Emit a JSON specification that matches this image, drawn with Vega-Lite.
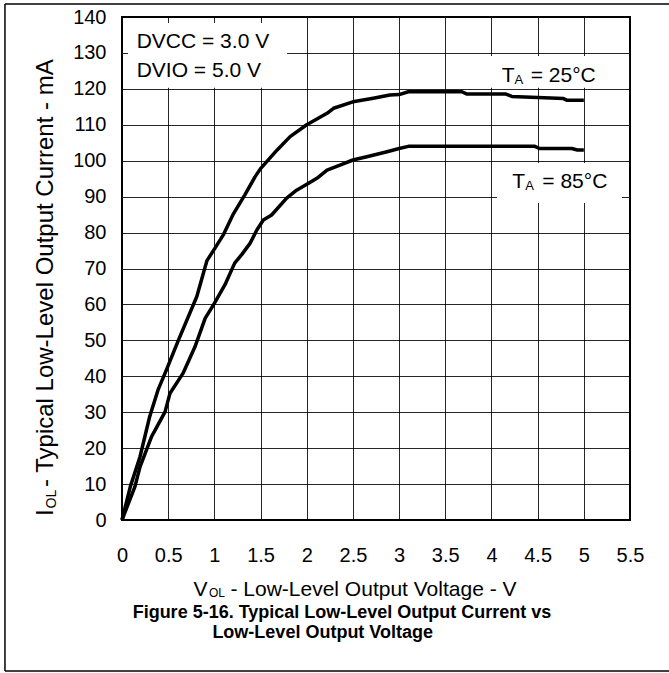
{
  "$schema": "https://vega.github.io/schema/vega-lite/v6.json",
  "width": 508,
  "height": 503,
  "autosize": {"type": "none"},
  "padding": {"left": 122, "top": 17, "right": 39, "bottom": 153},
  "background": "white",
  "config": {
    "view": {"stroke": "#000", "strokeWidth": 2},
    "axis": {
      "grid": true, "gridColor": "#000", "gridWidth": 1, "gridOpacity": 0.85,
      "domain": false, "ticks": false,
      "labelFont": "Liberation Sans", "labelFontSize": 20, "labelColor": "#000",
      "labelFlush": false, "labelOverlap": false
    },
    "axisX": {"labelPadding": 25},
    "axisY": {"labelPadding": 16},
    "text": {"font": "Liberation Sans", "color": "#000", "align": "left", "baseline": "alphabetic", "fontSize": 21}
  },
  "layer": [
    {
      "data": {"values": [
        {"temp": "25", "voltage": 0, "current": 0},
        {"temp": "25", "voltage": 0.09, "current": 9.3},
        {"temp": "25", "voltage": 0.195, "current": 17.6},
        {"temp": "25", "voltage": 0.3, "current": 28.8},
        {"temp": "25", "voltage": 0.39, "current": 36.2},
        {"temp": "25", "voltage": 0.48, "current": 41.7},
        {"temp": "25", "voltage": 0.61, "current": 50},
        {"temp": "25", "voltage": 0.81, "current": 62.2},
        {"temp": "25", "voltage": 0.92, "current": 72.2},
        {"temp": "25", "voltage": 1.0, "current": 75.4},
        {"temp": "25", "voltage": 1.1, "current": 79.5},
        {"temp": "25", "voltage": 1.2, "current": 84.9},
        {"temp": "25", "voltage": 1.33, "current": 90.5},
        {"temp": "25", "voltage": 1.44, "current": 95.5},
        {"temp": "25", "voltage": 1.5, "current": 97.8},
        {"temp": "25", "voltage": 1.68, "current": 103},
        {"temp": "25", "voltage": 1.82, "current": 106.7},
        {"temp": "25", "voltage": 2.0, "current": 110},
        {"temp": "25", "voltage": 2.22, "current": 113.2},
        {"temp": "25", "voltage": 2.29, "current": 114.6},
        {"temp": "25", "voltage": 2.5, "current": 116.4},
        {"temp": "25", "voltage": 2.72, "current": 117.4},
        {"temp": "25", "voltage": 2.9, "current": 118.3},
        {"temp": "25", "voltage": 3.0, "current": 118.4},
        {"temp": "25", "voltage": 3.1, "current": 119.2},
        {"temp": "25", "voltage": 3.68, "current": 119.2},
        {"temp": "25", "voltage": 3.73, "current": 118.6},
        {"temp": "25", "voltage": 4.15, "current": 118.6},
        {"temp": "25", "voltage": 4.22, "current": 117.9},
        {"temp": "25", "voltage": 4.5, "current": 117.6},
        {"temp": "25", "voltage": 4.78, "current": 117.3},
        {"temp": "25", "voltage": 4.82, "current": 116.8},
        {"temp": "25", "voltage": 5.0, "current": 116.8},
        {"temp": "85", "voltage": 0, "current": 0},
        {"temp": "85", "voltage": 0.14, "current": 9.3},
        {"temp": "85", "voltage": 0.195, "current": 14.8},
        {"temp": "85", "voltage": 0.32, "current": 23.2},
        {"temp": "85", "voltage": 0.466, "current": 30.1},
        {"temp": "85", "voltage": 0.52, "current": 35.3},
        {"temp": "85", "voltage": 0.66, "current": 40.8},
        {"temp": "85", "voltage": 0.79, "current": 48.2},
        {"temp": "85", "voltage": 0.9, "current": 56.1},
        {"temp": "85", "voltage": 1.0, "current": 60.3},
        {"temp": "85", "voltage": 1.115, "current": 65.5},
        {"temp": "85", "voltage": 1.22, "current": 71.5},
        {"temp": "85", "voltage": 1.3, "current": 74},
        {"temp": "85", "voltage": 1.386, "current": 77},
        {"temp": "85", "voltage": 1.46, "current": 80.7},
        {"temp": "85", "voltage": 1.53, "current": 83.5},
        {"temp": "85", "voltage": 1.62, "current": 84.9},
        {"temp": "85", "voltage": 1.78, "current": 89.5},
        {"temp": "85", "voltage": 1.89, "current": 91.8},
        {"temp": "85", "voltage": 2.02, "current": 93.7},
        {"temp": "85", "voltage": 2.11, "current": 95.1},
        {"temp": "85", "voltage": 2.22, "current": 97.4},
        {"temp": "85", "voltage": 2.36, "current": 98.8},
        {"temp": "85", "voltage": 2.5, "current": 100.2},
        {"temp": "85", "voltage": 2.65, "current": 101.1},
        {"temp": "85", "voltage": 2.87, "current": 102.5},
        {"temp": "85", "voltage": 3.0, "current": 103.4},
        {"temp": "85", "voltage": 3.1, "current": 104.0},
        {"temp": "85", "voltage": 4.47, "current": 104.0},
        {"temp": "85", "voltage": 4.52, "current": 103.4},
        {"temp": "85", "voltage": 4.87, "current": 103.4},
        {"temp": "85", "voltage": 4.93, "current": 103},
        {"temp": "85", "voltage": 5.0, "current": 103}
      ]},
      "mark": {"type": "line", "color": "#000", "strokeWidth": 3.5, "strokeJoin": "round"},
      "encoding": {
        "x": {
          "field": "voltage", "type": "quantitative",
          "scale": {"domain": [0, 5.5], "nice": false, "zero": false},
          "axis": {"values": [0, 0.5, 1, 1.5, 2, 2.5, 3, 3.5, 4, 4.5, 5, 5.5], "format": "~g", "title": null}
        },
        "y": {
          "field": "current", "type": "quantitative",
          "scale": {"domain": [0, 140], "nice": false},
          "axis": {"values": [0, 10, 20, 30, 40, 50, 60, 70, 80, 90, 100, 110, 120, 130, 140], "format": "d", "title": null}
        },
        "detail": {"field": "temp", "type": "nominal"},
        "order": {"field": "voltage", "type": "quantitative"}
      }
    },
    {
      "data": {"values": [{}]},
      "mark": {"type": "rect", "fill": "white"},
      "encoding": {
        "x": {"datum": 0.065, "axis": {"values": [0, 0.5, 1, 1.5, 2, 2.5, 3, 3.5, 4, 4.5, 5, 5.5], "format": "~g", "title": null}}, "x2": {"datum": 1.787},
        "y": {"datum": 138.3, "axis": {"values": [0, 10, 20, 30, 40, 50, 60, 70, 80, 90, 100, 110, 120, 130, 140], "format": "d", "title": null}}, "y2": {"datum": 120.3}
      }
    },
    {
      "data": {"values": [{}]},
      "mark": {"type": "rect", "fill": "white"},
      "encoding": {
        "x": {"datum": 3.984, "axis": {"values": [0, 0.5, 1, 1.5, 2, 2.5, 3, 3.5, 4, 4.5, 5, 5.5], "format": "~g", "title": null}}, "x2": {"datum": 5.49},
        "y": {"datum": 129.14, "axis": {"values": [0, 10, 20, 30, 40, 50, 60, 70, 80, 90, 100, 110, 120, 130, 140], "format": "d", "title": null}}, "y2": {"datum": 120.3}
      }
    },
    {
      "data": {"values": [{}]},
      "mark": {"type": "rect", "fill": "white"},
      "encoding": {
        "x": {"datum": 4.06, "axis": {"values": [0, 0.5, 1, 1.5, 2, 2.5, 3, 3.5, 4, 4.5, 5, 5.5], "format": "~g", "title": null}}, "x2": {"datum": 5.413},
        "y": {"datum": 99.36, "axis": {"values": [0, 10, 20, 30, 40, 50, 60, 70, 80, 90, 100, 110, 120, 130, 140], "format": "d", "title": null}}, "y2": {"datum": 88.23}
      }
    },
    {
      "data": {"values": [{}]},
      "mark": {"type": "text", "text": "DVCC = 3.0 V"},
      "encoding": {"x": {"datum": 0.159, "axis": {"values": [0, 0.5, 1, 1.5, 2, 2.5, 3, 3.5, 4, 4.5, 5, 5.5], "format": "~g", "title": null}}, "y": {"datum": 131.28, "axis": {"values": [0, 10, 20, 30, 40, 50, 60, 70, 80, 90, 100, 110, 120, 130, 140], "format": "d", "title": null}}}
    },
    {
      "data": {"values": [{}]},
      "mark": {"type": "text", "text": "DVIO = 5.0 V"},
      "encoding": {"x": {"datum": 0.159, "axis": {"values": [0, 0.5, 1, 1.5, 2, 2.5, 3, 3.5, 4, 4.5, 5, 5.5], "format": "~g", "title": null}}, "y": {"datum": 123.38, "axis": {"values": [0, 10, 20, 30, 40, 50, 60, 70, 80, 90, 100, 110, 120, 130, 140], "format": "d", "title": null}}}
    },
    {
      "data": {"values": [{}]},
      "mark": {"type": "text", "text": "T"},
      "encoding": {"x": {"datum": 4.111, "axis": {"values": [0, 0.5, 1, 1.5, 2, 2.5, 3, 3.5, 4, 4.5, 5, 5.5], "format": "~g", "title": null}}, "y": {"datum": 122.0, "axis": {"values": [0, 10, 20, 30, 40, 50, 60, 70, 80, 90, 100, 110, 120, 130, 140], "format": "d", "title": null}}}
    },
    {
      "data": {"values": [{}]},
      "mark": {"type": "text", "text": "A", "fontSize": 13, "dx": 12.8, "dy": 2},
      "encoding": {"x": {"datum": 4.111, "axis": {"values": [0, 0.5, 1, 1.5, 2, 2.5, 3, 3.5, 4, 4.5, 5, 5.5], "format": "~g", "title": null}}, "y": {"datum": 122.0, "axis": {"values": [0, 10, 20, 30, 40, 50, 60, 70, 80, 90, 100, 110, 120, 130, 140], "format": "d", "title": null}}}
    },
    {
      "data": {"values": [{}]},
      "mark": {"type": "text", "text": "= 25°C", "dx": 29},
      "encoding": {"x": {"datum": 4.111, "axis": {"values": [0, 0.5, 1, 1.5, 2, 2.5, 3, 3.5, 4, 4.5, 5, 5.5], "format": "~g", "title": null}}, "y": {"datum": 122.0, "axis": {"values": [0, 10, 20, 30, 40, 50, 60, 70, 80, 90, 100, 110, 120, 130, 140], "format": "d", "title": null}}}
    },
    {
      "data": {"values": [{}]},
      "mark": {"type": "text", "text": "T"},
      "encoding": {"x": {"datum": 4.226, "axis": {"values": [0, 0.5, 1, 1.5, 2, 2.5, 3, 3.5, 4, 4.5, 5, 5.5], "format": "~g", "title": null}}, "y": {"datum": 92.32, "axis": {"values": [0, 10, 20, 30, 40, 50, 60, 70, 80, 90, 100, 110, 120, 130, 140], "format": "d", "title": null}}}
    },
    {
      "data": {"values": [{}]},
      "mark": {"type": "text", "text": "A", "fontSize": 13, "dx": 12.8, "dy": 2},
      "encoding": {"x": {"datum": 4.226, "axis": {"values": [0, 0.5, 1, 1.5, 2, 2.5, 3, 3.5, 4, 4.5, 5, 5.5], "format": "~g", "title": null}}, "y": {"datum": 92.32, "axis": {"values": [0, 10, 20, 30, 40, 50, 60, 70, 80, 90, 100, 110, 120, 130, 140], "format": "d", "title": null}}}
    },
    {
      "data": {"values": [{}]},
      "mark": {"type": "text", "text": "= 85°C", "dx": 30},
      "encoding": {"x": {"datum": 4.226, "axis": {"values": [0, 0.5, 1, 1.5, 2, 2.5, 3, 3.5, 4, 4.5, 5, 5.5], "format": "~g", "title": null}}, "y": {"datum": 92.32, "axis": {"values": [0, 10, 20, 30, 40, 50, 60, 70, 80, 90, 100, 110, 120, 130, 140], "format": "d", "title": null}}}
    },
    {
      "data": {"values": [{}]},
      "mark": {"type": "text", "text": "V"},
      "encoding": {"x": {"datum": 0.774, "axis": {"values": [0, 0.5, 1, 1.5, 2, 2.5, 3, 3.5, 4, 4.5, 5, 5.5], "format": "~g", "title": null}}, "y": {"datum": -21.15, "axis": {"values": [0, 10, 20, 30, 40, 50, 60, 70, 80, 90, 100, 110, 120, 130, 140], "format": "d", "title": null}}}
    },
    {
      "data": {"values": [{}]},
      "mark": {"type": "text", "text": "OL", "fontSize": 12, "dx": 15.5, "dy": 1},
      "encoding": {"x": {"datum": 0.774, "axis": {"values": [0, 0.5, 1, 1.5, 2, 2.5, 3, 3.5, 4, 4.5, 5, 5.5], "format": "~g", "title": null}}, "y": {"datum": -21.15, "axis": {"values": [0, 10, 20, 30, 40, 50, 60, 70, 80, 90, 100, 110, 120, 130, 140], "format": "d", "title": null}}}
    },
    {
      "data": {"values": [{}]},
      "mark": {"type": "text", "text": "- Low-Level Output Voltage - V", "dx": 37},
      "encoding": {"x": {"datum": 0.774, "axis": {"values": [0, 0.5, 1, 1.5, 2, 2.5, 3, 3.5, 4, 4.5, 5, 5.5], "format": "~g", "title": null}}, "y": {"datum": -21.15, "axis": {"values": [0, 10, 20, 30, 40, 50, 60, 70, 80, 90, 100, 110, 120, 130, 140], "format": "d", "title": null}}}
    },
    {
      "data": {"values": [{}]},
      "mark": {"type": "text", "text": "I", "angle": 270, "fontSize": 24},
      "encoding": {"x": {"datum": -0.747, "axis": {"values": [0, 0.5, 1, 1.5, 2, 2.5, 3, 3.5, 4, 4.5, 5, 5.5], "format": "~g", "title": null}}, "y": {"datum": 1.11, "axis": {"values": [0, 10, 20, 30, 40, 50, 60, 70, 80, 90, 100, 110, 120, 130, 140], "format": "d", "title": null}}}
    },
    {
      "data": {"values": [{}]},
      "mark": {"type": "text", "text": "OL", "angle": 270, "fontSize": 14, "dx": 7.5, "dy": 3},
      "encoding": {"x": {"datum": -0.747, "axis": {"values": [0, 0.5, 1, 1.5, 2, 2.5, 3, 3.5, 4, 4.5, 5, 5.5], "format": "~g", "title": null}}, "y": {"datum": 1.11, "axis": {"values": [0, 10, 20, 30, 40, 50, 60, 70, 80, 90, 100, 110, 120, 130, 140], "format": "d", "title": null}}}
    },
    {
      "data": {"values": [{}]},
      "mark": {"type": "text", "text": "- Typical Low-Level Output Current - mA", "angle": 270, "fontSize": 24, "dx": 29},
      "encoding": {"x": {"datum": -0.747, "axis": {"values": [0, 0.5, 1, 1.5, 2, 2.5, 3, 3.5, 4, 4.5, 5, 5.5], "format": "~g", "title": null}}, "y": {"datum": 1.11, "axis": {"values": [0, 10, 20, 30, 40, 50, 60, 70, 80, 90, 100, 110, 120, 130, 140], "format": "d", "title": null}}}
    },
    {
      "data": {"values": [{}]},
      "mark": {"type": "text", "text": "Figure 5-16. Typical Low-Level Output Current vs", "align": "center", "fontWeight": "bold", "fontSize": 18},
      "encoding": {"x": {"datum": 2.382, "axis": {"values": [0, 0.5, 1, 1.5, 2, 2.5, 3, 3.5, 4, 4.5, 5, 5.5], "format": "~g", "title": null}}, "y": {"datum": -27.28, "axis": {"values": [0, 10, 20, 30, 40, 50, 60, 70, 80, 90, 100, 110, 120, 130, 140], "format": "d", "title": null}}}
    },
    {
      "data": {"values": [{}]},
      "mark": {"type": "text", "text": "Low-Level Output Voltage", "align": "center", "fontWeight": "bold", "fontSize": 18},
      "encoding": {"x": {"datum": 2.173, "axis": {"values": [0, 0.5, 1, 1.5, 2, 2.5, 3, 3.5, 4, 4.5, 5, 5.5], "format": "~g", "title": null}}, "y": {"datum": -32.74, "axis": {"values": [0, 10, 20, 30, 40, 50, 60, 70, 80, 90, 100, 110, 120, 130, 140], "format": "d", "title": null}}}
    },
    {
      "data": {"values": [{}]},
      "mark": {"type": "rule", "color": "#000", "strokeWidth": 1.5},
      "encoding": {"x": {"datum": -1.267, "axis": {"values": [0, 0.5, 1, 1.5, 2, 2.5, 3, 3.5, 4, 4.5, 5, 5.5], "format": "~g", "title": null}}, "x2": {"datum": 5.95}, "y": {"datum": 143.6, "axis": {"values": [0, 10, 20, 30, 40, 50, 60, 70, 80, 90, 100, 110, 120, 130, 140], "format": "d", "title": null}}}
    },
    {
      "data": {"values": [{}]},
      "mark": {"type": "rule", "color": "#000", "strokeWidth": 1.5},
      "encoding": {"x": {"datum": -1.267, "axis": {"values": [0, 0.5, 1, 1.5, 2, 2.5, 3, 3.5, 4, 4.5, 5, 5.5], "format": "~g", "title": null}}, "y": {"datum": 143.6, "axis": {"values": [0, 10, 20, 30, 40, 50, 60, 70, 80, 90, 100, 110, 120, 130, 140], "format": "d", "title": null}}, "y2": {"datum": -42.0}}
    },
    {
      "data": {"values": [{}]},
      "mark": {"type": "rule", "color": "#000", "strokeWidth": 1.5},
      "encoding": {"x": {"datum": -1.267, "axis": {"values": [0, 0.5, 1, 1.5, 2, 2.5, 3, 3.5, 4, 4.5, 5, 5.5], "format": "~g", "title": null}}, "x2": {"datum": 5.95}, "y": {"datum": -42.0, "axis": {"values": [0, 10, 20, 30, 40, 50, 60, 70, 80, 90, 100, 110, 120, 130, 140], "format": "d", "title": null}}}
    }
  ]
}
